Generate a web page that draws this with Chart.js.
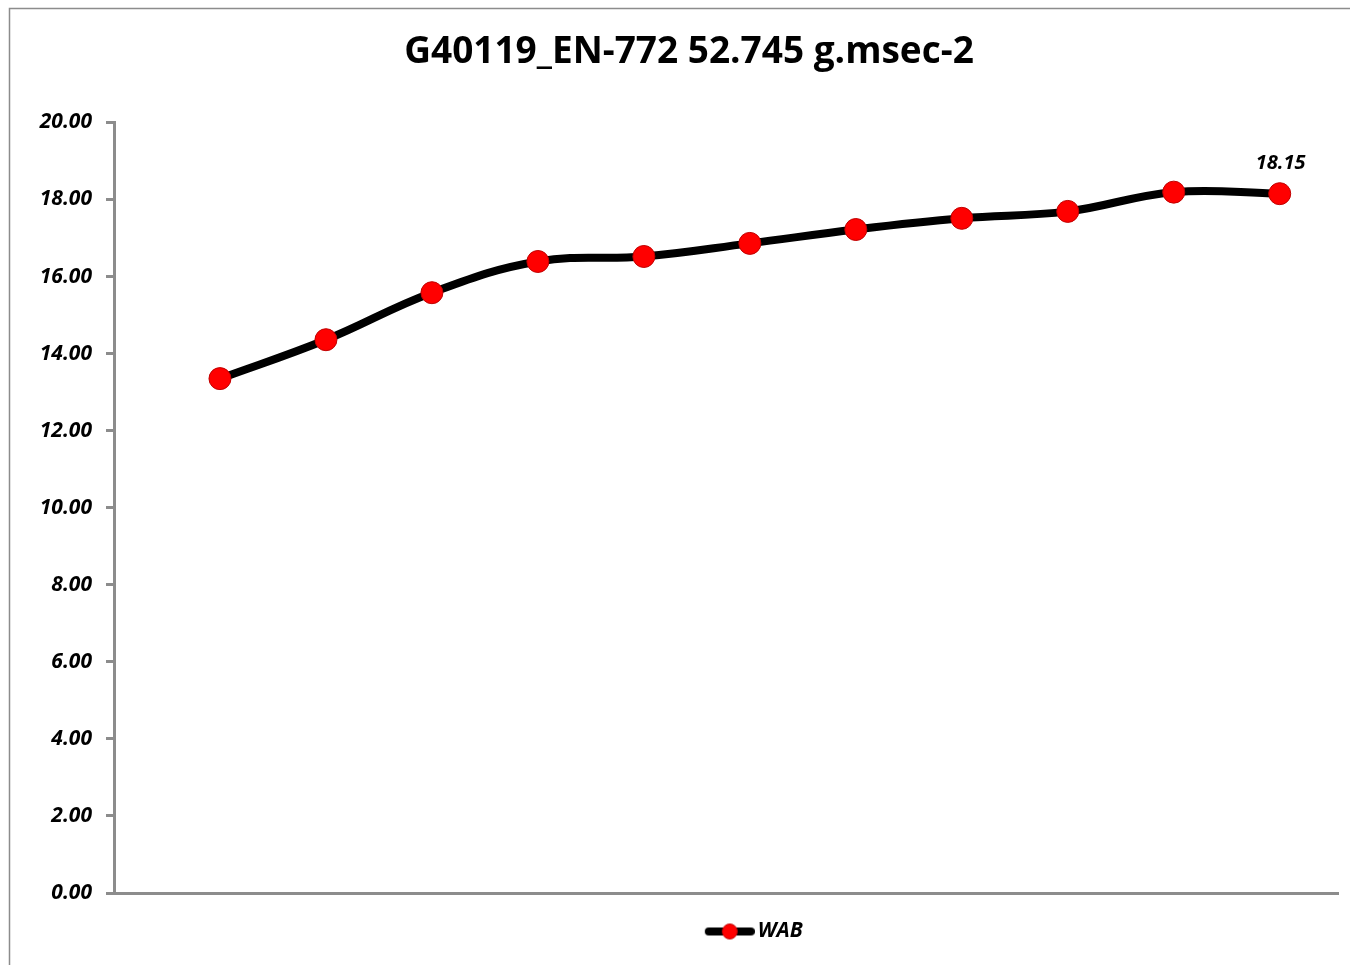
<!DOCTYPE html>
<html>
<head>
<meta charset="utf-8">
<script src="https://cdn.jsdelivr.net/npm/chart.js@4.4.1/dist/chart.umd.min.js"></script>
<style>
  html, body { margin: 0; padding: 0; background: #fff; }
  #wrap { width: 1350px; height: 965px; position: relative; }
</style>
</head>
<body>
<div id="wrap"><canvas id="chart" width="1350" height="965"></canvas></div>
<script>
// --- data ---
const chartTitle = 'G40119_EN-772 52.745 g.msec-2';
const seriesName = 'WAB';
const positions = [1, 2, 3, 4, 5, 6, 7, 8, 9, 10, 11];
const wabValues = [13.35, 14.36, 15.58, 16.39, 16.52, 16.86, 17.22, 17.51, 17.69, 18.19, 18.15];
const yTicks = [0, 2, 4, 6, 8, 10, 12, 14, 16, 18, 20];

const points = positions.map((x, i) => ({ x: x, y: wabValues[i] }));

// legend sample: thick black line with a red marker, sitting at the right of a transparent strip
const sample = document.createElement('canvas');
sample.width = 113;
sample.height = 20;
(function () {
    const c = sample.getContext('2d');
    const x0 = sample.width - 50;
    c.strokeStyle = '#000';
    c.lineWidth = 8;
    c.lineCap = 'round';
    c.beginPath();
    c.moveTo(x0 + 4, 10);
    c.lineTo(sample.width - 4, 10);
    c.stroke();
    c.fillStyle = '#ff0000';
    c.strokeStyle = '#c00000';
    c.lineWidth = 1;
    c.beginPath();
    c.arc(x0 + 25, 10, 7.5, 0, Math.PI * 2);
    c.fill();
    c.stroke();
})();

// outer frame of the chart (only left and top edges show in the picture)
const framePlugin = {
    id: 'frame',
    beforeDraw(chart) {
        const ctx = chart.ctx;
        ctx.save();
        ctx.strokeStyle = '#8c8c8c';
        ctx.lineWidth = 1.5;
        ctx.beginPath();
        ctx.moveTo(9.5, chart.height);
        ctx.lineTo(9.5, 8.5);
        ctx.lineTo(chart.width, 8.5);
        ctx.stroke();
        ctx.restore();
    }
};

// value label above the last point
const lastLabelPlugin = {
    id: 'lastLabel',
    afterDatasetsDraw(chart) {
        const meta = chart.getDatasetMeta(0);
        const el = meta.data[meta.data.length - 1];
        const val = wabValues[wabValues.length - 1];
        const ctx = chart.ctx;
        ctx.save();
        ctx.font = 'italic bold 20px "Open Sans"';
        ctx.fillStyle = '#000';
        ctx.textAlign = 'center';
        ctx.textBaseline = 'alphabetic';
        ctx.fillText(val.toFixed(2), el.x + 1, el.y - 25);
        ctx.restore();
    }
};

new Chart(document.getElementById('chart'), {
    type: 'line',
    data: {
        datasets: [{
            label: seriesName,
            data: points,
            borderColor: '#000000',
            borderWidth: 8,
            tension: 0.4,
            pointRadius: 11,
            pointHoverRadius: 11,
            pointBackgroundColor: '#ff0000',
            pointBorderColor: '#c00000',
            pointBorderWidth: 1
        }]
    },
    options: {
        responsive: false,
        animation: false,
        events: [],
        layout: {
            padding: { left: 38, right: 10, top: 0, bottom: 13 }
        },
        scales: {
            x: {
                type: 'linear',
                min: 0,
                max: 11.55,
                ticks: { display: false },
                grid: { display: false },
                border: { display: true, color: '#8c8c8c', width: 3 }
            },
            y: {
                min: 0,
                max: 20,
                afterBuildTicks(axis) {
                    axis.ticks = yTicks.map(v => ({ value: v }));
                },
                afterFit(axis) {
                    axis.width = 76;
                },
                ticks: {
                    color: '#000',
                    padding: 14,
                    font: { family: '"Open Sans"', size: 21, style: 'italic', weight: 'bold' },
                    callback: v => Number(v).toFixed(2)
                },
                grid: {
                    drawOnChartArea: false,
                    drawTicks: true,
                    tickLength: 8,
                    color: '#8c8c8c',
                    lineWidth: 3
                },
                border: { display: true, color: '#8c8c8c', width: 3 }
            }
        },
        plugins: {
            title: {
                display: true,
                text: chartTitle,
                color: '#000',
                font: { family: '"Open Sans"', size: 37, weight: 'bold' },
                padding: { top: 30, bottom: 48 }
            },
            legend: {
                display: true,
                position: 'bottom',
                fullSize: false,
                labels: {
                    usePointStyle: true,
                    pointStyle: sample,
                    pointStyleWidth: 98,
                    color: '#000',
                    padding: 20,
                    font: { family: '"Open Sans"', size: 21, style: 'italic', weight: 'bold' }
                }
            },
            tooltip: { enabled: false }
        }
    },
    plugins: [framePlugin, lastLabelPlugin]
});
</script>
</body>
</html>
